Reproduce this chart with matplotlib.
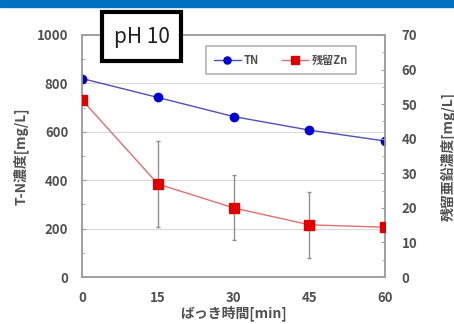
import numpy as np
import matplotlib.pyplot as plt
from matplotlib.patches import Rectangle
from matplotlib.ticker import MultipleLocator

plt.rcParams['font.family'] = ['Noto Sans CJK JP', 'DejaVu Sans']

# Data
time_min = [0, 15, 30, 45, 60]
tn = [820, 742, 663, 607, 562]
zn = [51.2, 26.9, 20.0, 15.1, 14.4]
zn_err = [0, 12.5, 9.4, 9.5, 0]

text_col = '#505050'
axis_col = '#a0a0a0'

fig = plt.figure(figsize=(4.54, 3.24), dpi=100)
fig.patches.append(Rectangle((0, 1 - 7 / 324), 1, 7 / 324, transform=fig.transFigure,
                             color='#0070c0', zorder=0))

ax = fig.add_axes([0.181, 0.145, 0.667, 0.747])
ax2 = ax.twinx()

tn_line, = ax.plot(time_min, tn, color='#5050b8', lw=1.0, marker='o', ms=6,
                   mfc='#0000d0', mec='#0000d0', label='TN', zorder=3)
zn_cont = ax2.errorbar(time_min, zn, yerr=zn_err, color='#e07070', lw=1.0, marker='s',
                       ms=6.5, mfc='#e00000', mec='#e00000', ecolor='#909090',
                       elinewidth=1.0, capsize=1.5, zorder=3)
zn_line = zn_cont.lines[0]

ax.set_xlim(0, 60)
ax.set_ylim(0, 1000)
ax2.set_ylim(0, 70)
ax.set_xticks(time_min)
ax.set_yticks(np.arange(0, 1001, 200))
ax.yaxis.set_minor_locator(MultipleLocator(100))
ax2.set_yticks(np.arange(0, 71, 10))
ax2.yaxis.set_minor_locator(MultipleLocator(5))
ax.grid(axis='y', color='#d9d9d9', lw=0.8)
ax.set_axisbelow(True)

for a in (ax, ax2):
    for s in a.spines.values():
        s.set_color(axis_col)
        s.set_linewidth(1.2)
    a.tick_params(colors=axis_col, labelcolor=text_col, labelsize=9.5, length=3)
    a.tick_params(which='minor', colors=axis_col, length=2, direction='in')
    for lbl in a.get_xticklabels() + a.get_yticklabels():
        lbl.set_fontweight('bold')
ax.tick_params(axis='x', direction='out', length=0, pad=10)
ax.tick_params(axis='y', direction='in', pad=10)
ax2.tick_params(axis='y', direction='in', pad=12)

ax.set_ylabel('T-N濃度[mg/L]', fontsize=10, fontweight='bold', color=text_col, labelpad=6)
ax2.set_ylabel('残留亜鉛濃度[mg/L]', fontsize=10, fontweight='bold', color=text_col,
               rotation=90, labelpad=16)
ax.set_xlabel('ばっき時間[min]', fontsize=10, fontweight='bold', color=text_col, labelpad=0)

leg = ax2.legend([tn_line, zn_line], ['TN', '残留Zn'], loc='upper left',
                 bbox_to_anchor=(0.41, 0.955), ncol=2,
                 fontsize=8, frameon=True, fancybox=False, edgecolor='#a0a0a0',
                 handlelength=2.4, handletextpad=0.3, columnspacing=2.0,
                 borderpad=0.7, borderaxespad=0, markerscale=0.85)
leg.get_frame().set_linewidth(1.2)
for t in leg.get_texts():
    t.set_fontweight('bold')
    t.set_color(text_col)

fig.patches.append(Rectangle((102 / 454, 1 - 60.5 / 324), 79 / 454, 49 / 324,
                             transform=fig.transFigure, fc='white', ec='black', lw=3,
                             zorder=5))
fig.text(141.5 / 454, 1 - 37 / 324, 'pH 10', fontsize=15, color='#202020',
         ha='center', va='center', zorder=6)

fig.savefig('out.png', dpi=100)
